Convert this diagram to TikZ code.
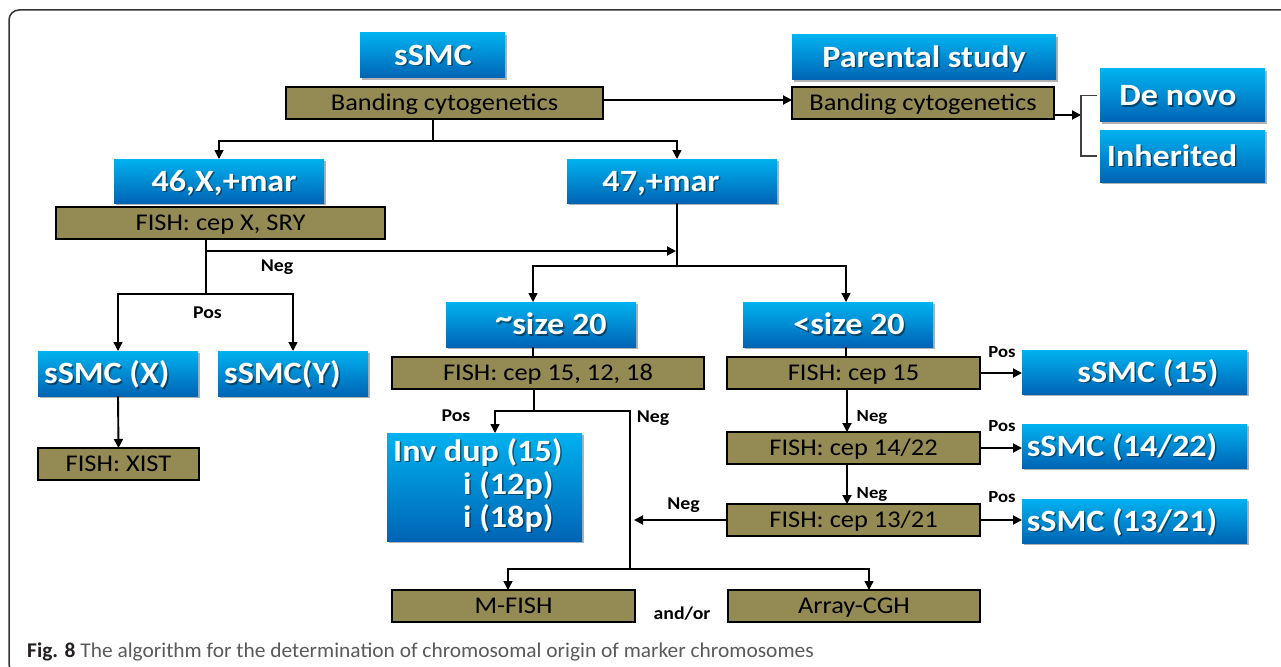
\documentclass[tikz,border=0pt]{standalone}
\usepackage{fontspec}
\setmainfont{Carlito}
\usetikzlibrary{arrows.meta,shadows}
\definecolor{cyTop}{HTML}{00B2F0}
\definecolor{cyBot}{HTML}{0064B4}
\definecolor{khaki}{HTML}{948A54}
\definecolor{capgray}{HTML}{5A5A5A}
\definecolor{capdark}{HTML}{231F20}
\definecolor{framegray}{HTML}{333333}
\tikzset{
  bbx/.style={rectangle, inner sep=0pt, outer sep=0pt, top color=cyTop, bottom color=cyBot,
    drop shadow={shadow xshift=2pt, shadow yshift=-2pt, opacity=0.3, fill=black}},
  kbx/.style={rectangle, draw=black, line width=1.8pt, fill=khaki, inner sep=0pt, outer sep=0pt,
    font=\fontsize{24}{28}\selectfont, text height=19.4pt, text depth=4pt},
  btx/.style={inner sep=0pt, text=white, font=\fontsize{31}{36}\selectfont\bfseries},
  lbl/.style={anchor=base, inner sep=0pt, font=\fontsize{18}{20}\selectfont\bfseries},
  lbls/.style={anchor=base, inner sep=0pt, font=\fontsize{17}{20}\selectfont\bfseries},
  arr/.style={-{Triangle[length=9pt,width=9pt]}},
  thk/.style={line width=1.9pt, draw=black},
  thn/.style={line width=1.4pt, draw=black},
  brk/.style={line width=1.2pt, draw=black!75},
  frame/.style={line width=1.5pt, draw=framegray, rounded corners=10pt}
}
\newcommand\BBox[5]{\node[bbx, minimum width={(#4-#2)*1pt}, minimum height={(#5-#3)*1pt}] (#1) at ({(#2+#4)/2},{(#3+#5)/2}) {};}
\newcommand\KBox[6]{\node[kbx, minimum width={(#4-#2)*1pt}, minimum height={(#5-#3)*1pt}] (#1) at ({(#2+#4)/2},{(#3+#5)/2}) {\scalebox{1.1}[1]{#6}};}
\newcommand\BTxt[5]{%
  \node[btx, text=black, opacity=.45, anchor=#2] (#1s) at ({#3+1.5},{#4+1.5}) {\scalebox{1.1}[1]{#5}};
  \node[btx, anchor=#2] (#1) at (#3,#4) {\scalebox{1.1}[1]{#5}};}
\newcommand\hitilde{\raisebox{6pt}{\textasciitilde}}
\begin{document}
\begin{tikzpicture}[x=1pt,y=-1pt]
\clip (0,0) rectangle (1281,666);
\fill[white] (0,0) rectangle (1281,666);
\draw[frame] (9,10) rectangle (1320,674);

% blue boxes
\BBox{ssmc}{360}{33}{505}{78}
\BBox{parental}{792}{35}{1056}{80}
\BBox{denovo}{1100}{69}{1265}{122}
\BBox{inherited}{1100}{130}{1265}{182}
\BBox{m46}{114}{159}{324}{203}
\BBox{m47}{567}{159}{777}{203}
\BBox{sza}{446}{302}{636}{347}
\BBox{szb}{743}{302}{933}{347}
\BBox{ssmcX}{38}{351}{198}{396}
\BBox{ssmcY}{218}{351}{368}{396}
\BBox{invdup}{387}{433}{582}{541}
\BBox{s15}{1022}{350}{1247}{394}
\BBox{s1422}{1022}{424}{1247}{468}
\BBox{s1321}{1022}{499}{1247}{543}

% blue box texts
\BTxt{t1}{base}{433}{65.5}{sSMC}
\BTxt{t2}{base}{924}{67.5}{Parental study}
\BTxt{t3}{base}{1178}{105.5}{De novo}
\BTxt{t4}{base}{1172}{166}{Inherited}
\BTxt{t5}{base}{224}{191}{46,X,+mar}
\BTxt{t6}{base}{661}{191}{47,+mar}
\BTxt{t7}{base}{551}{334.5}{\hitilde size 20}
\BTxt{t8}{base}{849}{334.5}{<size 20}
\BTxt{t9}{base west}{44}{383.5}{sSMC (X)}
\BTxt{t10}{base west}{224}{383.5}{sSMC(Y)}
\BTxt{t11}{base}{1148}{382}{sSMC (15)}
\BTxt{t12}{base}{1122}{456}{sSMC (14/22)}
\BTxt{t13}{base}{1122}{531}{sSMC (13/21)}
\BTxt{t14}{base west}{393}{461}{Inv dup (15)}
\BTxt{t15}{base west}{463}{494}{i (12p)}
\BTxt{t16}{base west}{463}{527}{i (18p)}

% khaki boxes
\KBox{band1}{286}{87}{603}{119}{Banding cytogenetics}
\KBox{band2}{792}{87}{1054}{119}{Banding cytogenetics}
\KBox{fishX}{56}{207}{385}{239}{FISH: cep X, SRY}
\KBox{fishA}{392}{357}{704}{389}{FISH: cep 15, 12, 18}
\KBox{fish15}{727}{357}{980}{389}{FISH: cep 15}
\KBox{xist}{38}{448}{199}{480}{FISH: XIST}
\KBox{fish1422}{727}{432}{980}{464}{FISH: cep 14/22}
\KBox{fish1321}{727}{504}{980}{536}{FISH: cep 13/21}
\KBox{mfish}{392}{590}{635}{622}{M-FISH}
\KBox{acgh}{728}{590}{980}{622}{Array-CGH}

% connectors
\coordinate (j1) at (433,141);
\draw[thk] (band1.south -| j1) -- (j1);
\draw[thn,arr] (j1) -| (m46.north);
\draw[thn,arr] (j1) -| ([xshift=5pt]m47.north);
\draw[thk,arr] ([yshift=3pt]band1.east) -- ([yshift=3pt]band2.west);
\coordinate (br) at (1081,115);
\draw[thk,arr] (band2.east |- br) -- (br);
\draw[brk] ([xshift=-3pt]denovo.west) -| (br) |- ([xshift=-3pt]inherited.west);

\coordinate (n2) at (206,251);
\coordinate (j2) at (206,294);
\coordinate (v47) at (677,266);
\draw[thk] (fishX.south -| j2) -- (j2);
\draw[thk,arr] (n2) -- ([xshift=-1pt]n2 -| v47);
\draw[thn,arr] (j2) -| (ssmcX.north);
\draw[thn,arr] (j2) -| (ssmcY.north);
\draw[thk,arr] (ssmcX.south) -- (xist.north);

\draw[thk] ([xshift=5pt]m47.south) -- (v47);
\draw[thn,arr] (v47) -| ([xshift=-8pt]sza.north);
\draw[thn,arr] (v47) -| ([xshift=8pt]szb.north);
\draw[thk] ([xshift=-8pt]sza.south) -- ([xshift=-8pt]sza.south |- fishA.north);
\draw[thk] ([xshift=8pt]szb.south) -- ([xshift=8pt]szb.south |- fish15.north);

\coordinate (j3) at (534,411);
\coordinate (j4) at (630,569);
\coordinate (n4) at (634,520);
\draw[thk] (fishA.south -| j3) -- (j3);
\draw[thn,arr] (j3) -| ([xshift=10.5pt]invdup.north);
\draw[thn] (j3) -| (j4);
\draw[thn,arr] (j4) -| ([xshift=-5.5pt]mfish.north);
\draw[thn,arr] (j4) -| ([xshift=15pt]acgh.north);

\draw[thk,arr] ([xshift=-6.5pt]fish15.south) -- ([xshift=-6.5pt]fish1422.north);
\draw[thk,arr] ([xshift=-6.5pt]fish1422.south) -- ([xshift=-6.5pt]fish1321.north);
\draw[thk,arr] (fish15.east) -- (fish15.east -| s15.west);
\draw[thk,arr] (fish1422.east) -- (fish1422.east -| s1422.west);
\draw[thk,arr] (fish1321.east) -- (fish1321.east -| s1321.west);
\draw[thk,arr] (fish1321.west) -- (n4);

% labels
\node[lbl] (l1) at (277,271) {\scalebox{1.1}[1]{Neg}};
\node[lbl] (l2) at (207.5,318) {\scalebox{1.1}[1]{Pos}};
\node[lbl] (l3) at (456,421) {\scalebox{1.1}[1]{Pos}};
\node[lbl] (l4) at (653,422) {\scalebox{1.1}[1]{Neg}};
\node[lbl] (l5) at (683.5,509) {\scalebox{1.1}[1]{Neg}};
\node[lbls] (l6) at (872,421.5) {\scalebox{1.1}[1]{Neg}};
\node[lbls] (l7) at (872,498) {\scalebox{1.1}[1]{Neg}};
\node[lbls] (l8) at (1002,357.5) {\scalebox{1.1}[1]{Pos}};
\node[lbls] (l9) at (1002,431) {\scalebox{1.1}[1]{Pos}};
\node[lbls] (l10) at (1002,502.5) {\scalebox{1.1}[1]{Pos}};
\node[lbl] (l11) at (682,619) {\scalebox{1.1}[1]{and/or}};

% caption
\node[anchor=base west, inner sep=0pt, font=\fontsize{21}{24}\selectfont] (cap) at (27,657)
  {\scalebox{1.02}[1]{\textcolor{capdark}{\bfseries Fig. 8} \textcolor{capgray}{The algorithm for the determination of chromosomal origin of marker chromosomes}}};
\end{tikzpicture}
\end{document}
